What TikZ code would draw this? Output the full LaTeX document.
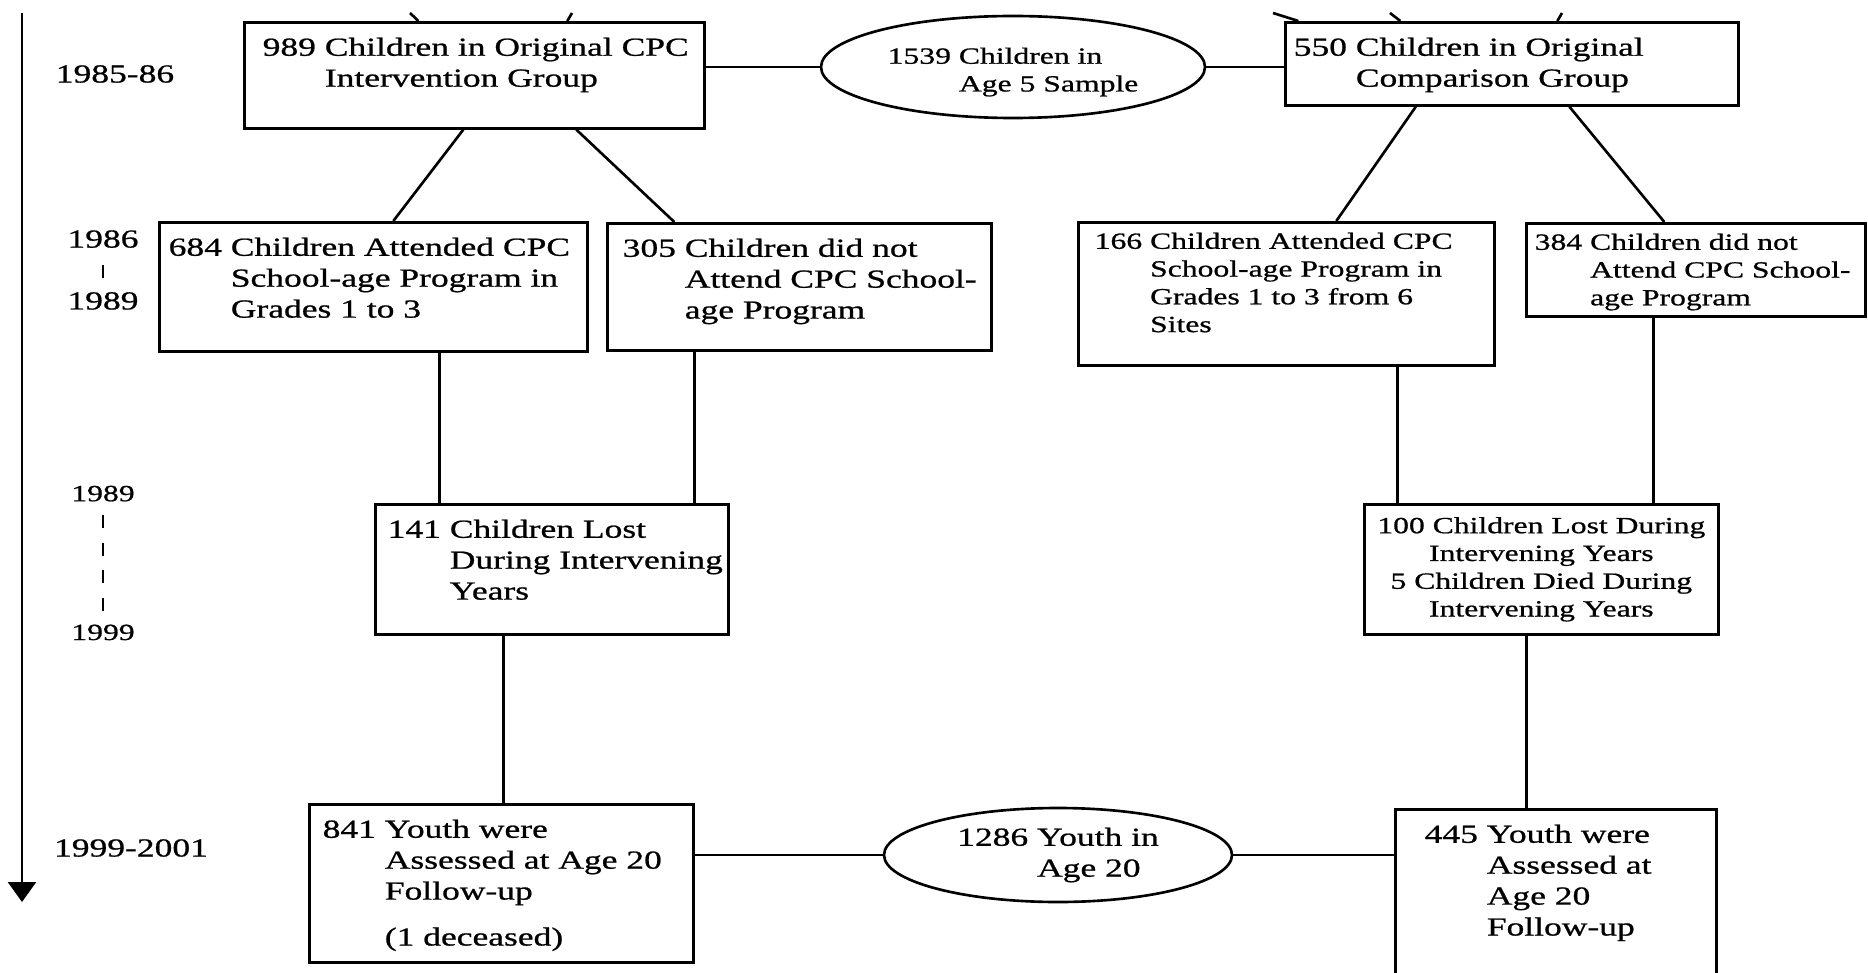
\documentclass[tikz,border=0pt]{standalone}
\usepackage{fontspec}
\setmainfont{Liberation Serif}[FakeStretch=1.365, FakeBold=0.8]
\usepackage{tikz}
\usetikzlibrary{arrows.meta,shapes.geometric}
\newcommand{\fbig}{\fontsize{7.4}{8.8}\selectfont}
\newcommand{\fsmall}{\fontsize{6.6}{7.9}\selectfont}
\newcommand{\tick}{\rule[0.01cm]{0.6pt}{0.13cm}}
\tikzset{
  cbox/.style  ={rectangle, draw=black, line width=0.75pt, anchor=north west, inner sep=0pt},
  clbl/.style  ={anchor=north west, align=left, inner xsep=0.14cm, inner ysep=0.16cm, font=\fbig},
  clblsm/.style={clbl, font=\fsmall, inner ysep=0.11cm},
  coval/.style ={ellipse, draw=black, line width=0.75pt, inner sep=0pt, align=left},
  cline/.style ={line width=0.75pt, black},
  ctime/.style ={line width=0.75pt, -{Triangle[length=2mm, width=2.8mm]}},
  cyear/.style ={align=center, font=\fbig, inner sep=0pt},
}
\begin{document}
\begin{tikzpicture}
  \clip (0,0) rectangle (18.68,-9.73);
  % time axis
  \coordinate (t0) at (0.22,-0.13);
  \coordinate (t1) at (0.22,-9.02);
  \draw[ctime] (t0) -- (t1);
  \node[cyear] (y1) at (1.15,-0.74) {1985-86};
  \node[cyear] (y2) at (1.03,-2.70) {1986\\\tick\\1989};
  \node[cyear, font=\fsmall] (y3) at (1.03,-5.63) {1989\\\tick\\\tick\\\tick\\\tick\\1999};
  \node[cyear] (y4) at (1.31,-8.48) {1999-2001};
  % age 5 sample
  \node[cbox, minimum width=4.60cm, minimum height=1.06cm,
        label={[clbl, inner xsep=0.19cm]north west:{989 Children in Original CPC\\\phantom{989 }Intervention Group}}] (A) at (2.43,-0.21) {};
  \node[coval, minimum width=3.84cm, minimum height=1.02cm, font=\fsmall, text height=0.54cm] (E1) at (10.13,-0.67)
        {1539 Children in\\\phantom{1539 }Age 5 Sample};
  \node[cbox, minimum width=4.53cm, minimum height=0.83cm,
        label={[clbl, inner xsep=0.09cm]north west:{550 Children in Original\\\phantom{550 }Comparison Group}}] (B) at (12.84,-0.21) {};
  % school-age program
  \node[cbox, minimum width=4.28cm, minimum height=1.29cm,
        label={[clbl, inner xsep=0.10cm]north west:{684 Children Attended CPC\\\phantom{684 }School-age Program in\\\phantom{684 }Grades 1 to 3}}] (C) at (1.58,-2.21) {};
  \node[cbox, minimum width=3.84cm, minimum height=1.27cm,
        label={[clbl, inner xsep=0.16cm]north west:{305 Children did not\\\phantom{305 }Attend CPC School-\\\phantom{305 }age Program}}] (D) at (6.06,-2.22) {};
  \node[cbox, minimum width=4.16cm, minimum height=1.43cm,
        label={[clblsm, inner xsep=0.17cm]north west:{166 Children Attended CPC\\\phantom{166 }School-age Program in\\\phantom{166 }Grades 1 to 3 from 6\\\phantom{166 }Sites}}] (E) at (10.77,-2.21) {};
  \node[cbox, minimum width=3.39cm, minimum height=0.93cm,
        label={[clblsm, inner xsep=0.09cm]north west:{384 Children did not\\\phantom{384 }Attend CPC School-\\\phantom{384 }age Program}}] (F) at (15.25,-2.22) {};
  % lost during intervening years
  \node[cbox, minimum width=3.53cm, minimum height=1.30cm,
        label={[clbl, inner xsep=0.13cm]north west:{141 Children Lost\\\phantom{141 }During Intervening\\\phantom{141 }Years}}] (G) at (3.74,-5.03) {};
  \node[cbox, minimum width=3.54cm, minimum height=1.30cm, align=center, font=\fsmall] (H) at (13.63,-5.03)
        {100 Children Lost During\\Intervening Years\\5 Children Died During\\Intervening Years};
  % age 20 follow-up
  \node[cbox, minimum width=3.84cm, minimum height=1.58cm,
        label={[clbl, inner xsep=0.14cm]north west:{841 Youth were\\\phantom{841 }Assessed at Age 20\\\phantom{841 }Follow-up\\[0.15cm]\phantom{841 }(1 deceased)}}] (I) at (3.08,-8.03) {};
  \node[coval, minimum width=3.48cm, minimum height=0.94cm, font=\fbig] (E2) at (10.58,-8.55)
        {1286 Youth in\\\phantom{1286 }Age 20};
  \node[cbox, minimum width=3.21cm, minimum height=2.0cm,
        label={[clbl, inner xsep=0.30cm]north west:{445 Youth were\\\phantom{445 }Assessed at\\\phantom{445 }Age 20\\\phantom{445 }Follow-up}}] (J) at (13.94,-8.08) {};
  % lines coming in from above
  \coordinate (a1) at (4.10,-0.13);
  \coordinate (a2) at (5.72,-0.13);
  \coordinate (b1) at (12.73,-0.13);
  \coordinate (b2) at (13.90,-0.13);
  \coordinate (b3) at (15.62,-0.13);
  \draw[cline] (a1) -- ([xshift=-0.56cm]A.north);
  \draw[cline] (a2) -- ([xshift=0.93cm]A.north);
  \draw[cline] (b1) -- ([xshift=-2.135cm]B.north);
  \draw[cline] (b2) -- ([xshift=-1.115cm]B.north);
  \draw[cline] (b3) -- ([xshift=0.455cm]B.north);
  % connectors
  \draw[cline] (E1.west -| A.east) -- (E1.west);
  \draw[cline] (E1.east) -- (E1.east -| B.west);
  \draw[cline] ([xshift=-0.11cm]A.south) -- ([xshift=0.20cm]C.north);
  \draw[cline] ([xshift=1.02cm]A.south) -- ([xshift=-1.25cm]D.north);
  \draw[cline] ([xshift=-0.96cm]B.south) -- ([xshift=0.50cm]E.north);
  \draw[cline] ([xshift=0.575cm]B.south) -- ([xshift=-0.315cm]F.north);
  \draw[cline] ([xshift=0.66cm]C.south) -- ([xshift=0.66cm]C.south |- G.north);
  \draw[cline] ([xshift=-1.05cm]D.south) -- ([xshift=-1.05cm]D.south |- G.north);
  \draw[cline] ([xshift=1.11cm]E.south) -- ([xshift=1.11cm]E.south |- H.north);
  \draw[cline] ([xshift=-0.425cm]F.south) -- ([xshift=-0.425cm]F.south |- H.north);
  \draw[cline] ([xshift=-0.485cm]G.south) -- ([xshift=-0.485cm]G.south |- I.north);
  \draw[cline] ([xshift=-0.15cm]H.south) -- ([xshift=-0.15cm]H.south |- J.north);
  \draw[cline] (E2.west -| I.east) -- (E2.west);
  \draw[cline] (E2.east) -- (E2.east -| J.west);
\end{tikzpicture}
\end{document}
